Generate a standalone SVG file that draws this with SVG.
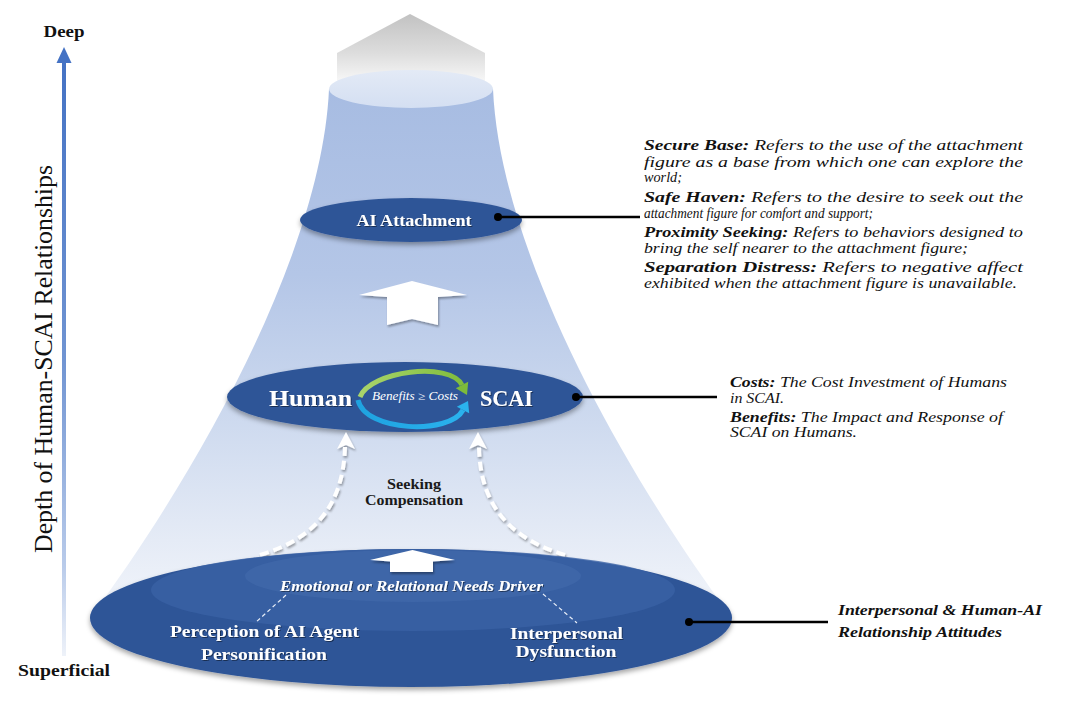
<svg xmlns="http://www.w3.org/2000/svg" width="1080" height="705" viewBox="0 0 1080 705">
<style>
  .serif { font-family: "Liberation Serif", "Times New Roman", serif; }
  .wlbl { font-family: "Liberation Serif", "Times New Roman", serif; fill: #ffffff; font-weight: bold; }
  .note { font-family: "Liberation Serif", "Times New Roman", serif; font-style: italic; font-size: 15px; fill: #111111; }
  .b { font-weight: bold; }
  .conn { stroke: #000000; stroke-width: 2.5; fill: none; }
  .dot { fill: #000000; }
  .dashArrow { stroke: #ffffff; stroke-width: 4; fill: none; stroke-dasharray: 9 5; }
  .thinDash { stroke: #e8eef8; stroke-width: 1.2; fill: none; stroke-dasharray: 4 3; }
  .blueEll { fill: #2f5597; }
</style>
<defs>
  <linearGradient id="coneGrad" x1="0" y1="89" x2="0" y2="620" gradientUnits="userSpaceOnUse">
    <stop offset="0" stop-color="#a7bce2"/>
    <stop offset="0.35" stop-color="#b4c6e7"/>
    <stop offset="0.6" stop-color="#cbd8ee"/>
    <stop offset="0.85" stop-color="#e5ebf6"/>
    <stop offset="1" stop-color="#f3f6fb"/>
  </linearGradient>
  <linearGradient id="grayArrow" x1="0" y1="14" x2="0" y2="90" gradientUnits="userSpaceOnUse">
    <stop offset="0" stop-color="#c2c2c2"/>
    <stop offset="0.5" stop-color="#dcdcdc"/>
    <stop offset="1" stop-color="#ffffff"/>
  </linearGradient>
  <linearGradient id="topEll" x1="0" y1="70" x2="0" y2="108" gradientUnits="userSpaceOnUse">
    <stop offset="0" stop-color="#e3eaf6"/>
    <stop offset="1" stop-color="#d4dff2"/>
  </linearGradient>
  <linearGradient id="axisGrad" x1="0" y1="60" x2="0" y2="656" gradientUnits="userSpaceOnUse">
    <stop offset="0" stop-color="#4472c4"/>
    <stop offset="0.5" stop-color="#7094d2"/>
    <stop offset="0.85" stop-color="#b9cbea"/>
    <stop offset="1" stop-color="#eef2f9"/>
  </linearGradient>
  <linearGradient id="greenGrad" x1="360" y1="0" x2="470" y2="0" gradientUnits="userSpaceOnUse">
    <stop offset="0" stop-color="#a9d46b"/>
    <stop offset="1" stop-color="#7dbb3a"/>
  </linearGradient>
  <linearGradient id="blueGrad" x1="360" y1="0" x2="470" y2="0" gradientUnits="userSpaceOnUse">
    <stop offset="0" stop-color="#1fa3e0"/>
    <stop offset="1" stop-color="#2bb3ee"/>
  </linearGradient>
  <filter id="shadow" x="-10%" y="-30%" width="120%" height="170%">
    <feDropShadow dx="0" dy="3" stdDeviation="2.5" flood-color="#000000" flood-opacity="0.35"/>
  </filter>
  <filter id="shadowSm" x="-30%" y="-30%" width="160%" height="160%">
    <feDropShadow dx="1" dy="2" stdDeviation="1.3" flood-color="#000000" flood-opacity="0.35"/>
  </filter>
  <filter id="txtSh" x="-5%" y="-20%" width="110%" height="150%">
    <feDropShadow dx="1" dy="1" stdDeviation="0.6" flood-color="#000000" flood-opacity="0.45"/>
  </filter>
</defs>

<rect x="0" y="0" width="1080" height="705" fill="#ffffff"/>

<!-- Depth axis -->
<g id="depth-axis">
  <line x1="64" y1="656" x2="64" y2="60" stroke="url(#axisGrad)" stroke-width="4"/>
  <polygon points="64,47 56.5,63 71.5,63" fill="#4472c4"/>
  <text class="serif" x="64" y="37" font-size="17" font-weight="bold" text-anchor="middle" fill="#111111" textLength="41" lengthAdjust="spacingAndGlyphs">Deep</text>
  <text class="serif" x="18" y="676" font-size="17" font-weight="bold" fill="#111111" textLength="92" lengthAdjust="spacingAndGlyphs">Superficial</text>
  <text class="serif" transform="translate(52,359) rotate(-90)" x="0" y="0" font-size="26" text-anchor="middle" fill="#111111" textLength="388" lengthAdjust="spacingAndGlyphs">Depth of Human-SCAI Relationships</text>
</g>

<!-- Top gray arrow and cone -->
<g id="cone">
  <polygon points="410,14 337,53 337,95 485,95 485,53" fill="url(#grayArrow)"/>
  <path d="M 329 89 C 322 250 200 470 90 618 L 732 618 C 622 470 500 250 493 89 Z" fill="url(#coneGrad)"/>
  <ellipse cx="411" cy="89" rx="82" ry="19" fill="url(#topEll)"/>
</g>

<!-- AI Attachment -->
<g id="node-ai-attachment">
  <ellipse class="blueEll" cx="411" cy="220" rx="111" ry="22" filter="url(#shadow)"/>
  <text class="wlbl" x="414" y="226" font-size="17" text-anchor="middle" textLength="115" lengthAdjust="spacingAndGlyphs" filter="url(#txtSh)">AI Attachment</text>
</g>

<!-- middle white arrow -->
<g id="arrow-mid">
  <polygon points="412,281 467,295 438,297 438,325 412,319 387,325 387,297 359,295" fill="#ffffff" filter="url(#shadowSm)"/>
</g>

<!-- Human - SCAI -->
<g id="node-human-scai">
  <ellipse class="blueEll" cx="405" cy="397" rx="178" ry="35" filter="url(#shadow)"/>
  <path d="M 360 397 C 370 371 450 361 462 385" stroke="url(#greenGrad)" stroke-width="5" fill="none"/>
  <polygon points="455.8,388.2 468.2,381.8 467,395" fill="#7dbb3a"/>
  <path d="M 358 400 C 365 432 450 435 463 410" stroke="url(#blueGrad)" stroke-width="5" fill="none"/>
  <polygon points="456.8,406.8 469.2,413.2 468,401" fill="#2bb3ee"/>
  <text class="wlbl" x="269" y="406" font-size="23" textLength="83" lengthAdjust="spacingAndGlyphs" filter="url(#txtSh)">Human</text>
  <text class="wlbl" x="480" y="406" font-size="23" textLength="53" lengthAdjust="spacingAndGlyphs" filter="url(#txtSh)">SCAI</text>
  <text class="serif" x="372" y="400" font-size="11.5" font-style="italic" fill="#ffffff" textLength="86" lengthAdjust="spacingAndGlyphs">Benefits ≥ Costs</text>
</g>

<!-- Seeking compensation dashed arrows -->
<g id="seeking-compensation">
  <g filter="url(#shadowSm)">
    <path class="dashArrow" d="M 260 555 C 310 540 343 510 345 447"/>
    <polygon points="346,432 355,449 346,445 337,449" fill="#ffffff"/>
    <path class="dashArrow" d="M 565 555 C 515 540 480 510 479 447"/>
    <polygon points="478,432 487,449 478,445 469,449" fill="#ffffff"/>
  </g>
  <text class="serif" x="414" y="489" font-size="15" font-weight="bold" text-anchor="middle" fill="#1a1a1a" textLength="54" lengthAdjust="spacingAndGlyphs">Seeking</text>
  <text class="serif" x="414" y="505" font-size="15" font-weight="bold" text-anchor="middle" fill="#1a1a1a" textLength="98" lengthAdjust="spacingAndGlyphs">Compensation</text>
</g>

<!-- Bottom base ellipse -->
<g id="node-base">
  <ellipse class="blueEll" cx="411" cy="618" rx="321" ry="69" filter="url(#shadow)"/>
  <ellipse cx="413" cy="590" rx="262" ry="41" fill="#3962a5" opacity="0.8"/>
  <ellipse cx="413" cy="576" rx="168" ry="26" fill="#4169ab" opacity="0.7"/>
  <polygon points="412.5,550 455,560 433,561.5 433,572 390,572 390,561.5 370,560" fill="#ffffff" filter="url(#shadowSm)"/>
  <text class="serif" x="280" y="591" font-size="14" font-style="italic" font-weight="bold" fill="#ffffff" textLength="263" lengthAdjust="spacingAndGlyphs" filter="url(#txtSh)">Emotional or Relational Needs Driver</text>
  <path class="thinDash" d="M 286 595 L 255 623"/>
  <path class="thinDash" d="M 543 594 L 577 623"/>
  <text class="wlbl" x="264.5" y="637" font-size="17" text-anchor="middle" textLength="189" lengthAdjust="spacingAndGlyphs" filter="url(#txtSh)">Perception of AI Agent</text>
  <text class="wlbl" x="264" y="660" font-size="17" text-anchor="middle" textLength="126" lengthAdjust="spacingAndGlyphs" filter="url(#txtSh)">Personification</text>
  <text class="wlbl" x="566.5" y="639" font-size="17" text-anchor="middle" textLength="113" lengthAdjust="spacingAndGlyphs" filter="url(#txtSh)">Interpersonal</text>
  <text class="wlbl" x="566" y="657" font-size="17" text-anchor="middle" textLength="101" lengthAdjust="spacingAndGlyphs" filter="url(#txtSh)">Dysfunction</text>
</g>

<!-- Connectors -->
<g id="connectors">
  <line class="conn" x1="498" y1="217" x2="640" y2="217"/>
  <circle class="dot" cx="498" cy="217" r="4"/>
  <line class="conn" x1="576" y1="397" x2="717" y2="397"/>
  <circle class="dot" cx="576" cy="397" r="4"/>
  <line class="conn" x1="689" y1="622" x2="828" y2="622"/>
  <circle class="dot" cx="689" cy="622" r="4"/>
</g>

<!-- Annotation: attachment features -->
<g id="note-attachment">
  <text class="note" x="644" y="150" textLength="379" lengthAdjust="spacingAndGlyphs"><tspan class="b">Secure Base:</tspan> Refers to the use of the attachment</text>
  <text class="note" x="644" y="167" textLength="379" lengthAdjust="spacingAndGlyphs">figure as a base from which one can explore the</text>
  <text class="note" x="644" y="182" textLength="38" lengthAdjust="spacingAndGlyphs">world;</text>
  <text class="note" x="644" y="202" textLength="379" lengthAdjust="spacingAndGlyphs"><tspan class="b">Safe Haven:</tspan> Refers to the desire to seek out the</text>
  <text class="note" x="644" y="218" textLength="229" lengthAdjust="spacingAndGlyphs">attachment figure for comfort and support;</text>
  <text class="note" x="644" y="237" textLength="379" lengthAdjust="spacingAndGlyphs"><tspan class="b">Proximity Seeking:</tspan> Refers to behaviors designed to</text>
  <text class="note" x="644" y="253" textLength="324" lengthAdjust="spacingAndGlyphs">bring the self nearer to the attachment figure;</text>
  <text class="note" x="644" y="272" textLength="379" lengthAdjust="spacingAndGlyphs"><tspan class="b">Separation Distress:</tspan> Refers to negative affect</text>
  <text class="note" x="644" y="288" textLength="373" lengthAdjust="spacingAndGlyphs">exhibited when the attachment figure is unavailable.</text>
</g>

<!-- Annotation: costs and benefits -->
<g id="note-costs">
  <text class="note" x="730" y="387" textLength="277" lengthAdjust="spacingAndGlyphs"><tspan class="b">Costs:</tspan> The Cost Investment of Humans</text>
  <text class="note" x="730" y="403" textLength="54" lengthAdjust="spacingAndGlyphs">in SCAI.</text>
  <text class="note" x="730" y="422" textLength="273" lengthAdjust="spacingAndGlyphs"><tspan class="b">Benefits:</tspan> The Impact and Response of</text>
  <text class="note" x="730" y="437" textLength="127" lengthAdjust="spacingAndGlyphs">SCAI on Humans.</text>
</g>

<!-- Annotation: attitudes -->
<g id="note-attitudes">
  <text class="note b" x="838" y="615" textLength="204" lengthAdjust="spacingAndGlyphs">Interpersonal &amp; Human-AI</text>
  <text class="note b" x="838" y="637" textLength="164" lengthAdjust="spacingAndGlyphs">Relationship Attitudes</text>
</g>
</svg>
